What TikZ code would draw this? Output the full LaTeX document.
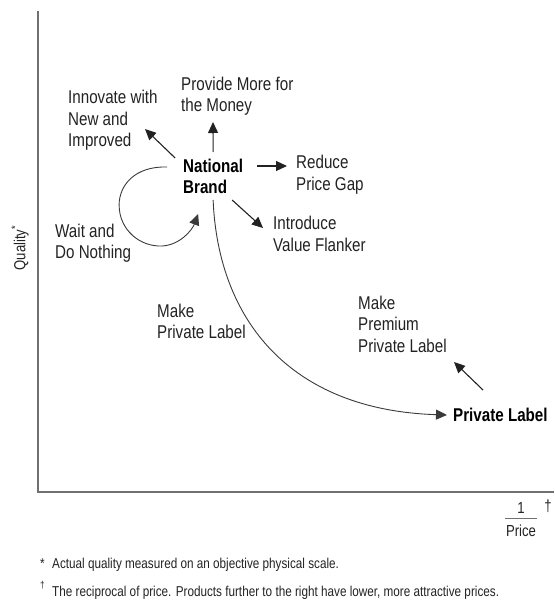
\documentclass[tikz,border=0pt]{standalone}
\usepackage{fontspec}
\setmainfont{Liberation Sans}[FakeStretch=0.82]
\usetikzlibrary{arrows.meta,calc}
\definecolor{ink}{HTML}{222222}
\definecolor{curvegray}{HTML}{3A3A3A}
\definecolor{axisgray}{HTML}{707070}
\begin{document}
\begin{tikzpicture}[x=1pt,y=-1pt,
  txt/.style={anchor=west,inner sep=0pt,align=left,text=ink,
    font=\fontsize{18.5}{21.5}\selectfont},
  hub/.style={anchor=west,inner sep=0pt,align=left,text=black,
    font=\fontsize{18.5}{21}\selectfont\bfseries},
  note/.style={anchor=base west,inner sep=0pt,text=ink,
    font=\fontsize{14.3}{16}\selectfont},
  axlabel/.style={inner sep=0pt,text=ink,font=\fontsize{16}{18}\selectfont},
  arr/.style={draw=ink,line width=1.1pt,-{Triangle[length=11pt,width=10pt]}},
  route/.style={draw=curvegray,line width=0.9pt},
  axisline/.style={draw=axisgray,line width=1.6pt}]

\useasboundingbox (0,0) rectangle (554,602);

% axes
\draw[axisline] (38,11) |- (554,492);

% strategy labels
\node[hub] (nb) at (183,176.5) {National\\Brand};
\node[txt] (innov) at (68,120.5) {Innovate with\\New and\\Improved};
\node[txt] (provide) at (181,96) {Provide More for\\the Money};
\node[txt] (reduce) at (296,174.5) {Reduce\\Price Gap};
\node[txt] (introduce) at (273,234) {Introduce\\Value Flanker};
\node[txt] (wait) at (55,243) {Wait and\\Do Nothing};
\node[txt] (makepl) at (157,321.5) {Make\\Private Label};
\node[txt] (premium) at (358,324) {Make\\Premium\\Private Label};
\node[hub] (pl) at (453,415) {Private Label};

% moves away from the national brand
\draw[arr] ($(nb.center)+(0,-24.5)$) -- ($(provide.west)+(32,26)$);
\draw[arr] ($(nb.center)+(-38,-18.5)$) -- ($(innov.west)+(77,8.5)$);
\draw[arr] ($(nb.center)+(44,-10.5)$) -- ($(reduce.west)+(-9,-8.5)$);
\draw[arr] ($(nb.center)+(19,23.5)$) -- ($(introduce.west)+(-10,-6)$);
\draw[arr] ($(pl.west)+(30,-25)$) -- ($(premium.west)+(96,38)$);

\begin{scope}[shift={(nb.center)}]
  % wait and do nothing: loop back onto the brand
  \draw[route,-{Triangle[length=11pt,width=10pt]}] (-46,-9.5)
    .. controls (-78,-10.5) and (-94,8.5) .. (-94,28.5)
    .. controls (-94,53.5) and (-73,70.5) .. (-51,69.5)
    .. controls (-33,68.5) and (-21,53.5) .. (-15,37.5);
  % make private label: long sweep down to the private label
  \draw[route,-{Triangle[length=11pt,width=10pt]}] (0,23.5)
    .. controls (5,143.5) and (77,233.5) .. ($(pl.west)+(-6,0)$);
\end{scope}

% axis labels
\node[axlabel,rotate=90] (qual) at (20,248) {Quality\textsuperscript{*}};
\node[axlabel] (num) at (521,508) {1};
\node[axlabel] (den) at (521,531) {Price};
\draw[draw=axisgray,line width=0.7pt] ($(den.north west)+(-1,-7)$) -- ($(den.north east)+(1,-7)$);
\node[axlabel] (dag) at (548,506) {†};

% footnotes
\node[note] (star) at (40,568) {*};
\node[note] (foot1) at (52,568) {Actual quality measured on an objective physical scale.};
\node[note,font=\fontsize{10}{12}\selectfont] (dag2) at (40,588) {†};
\node[note] (foot2) at (52,596) {The reciprocal of price. Products further to the right have lower, more attractive prices.};
\end{tikzpicture}
\end{document}
